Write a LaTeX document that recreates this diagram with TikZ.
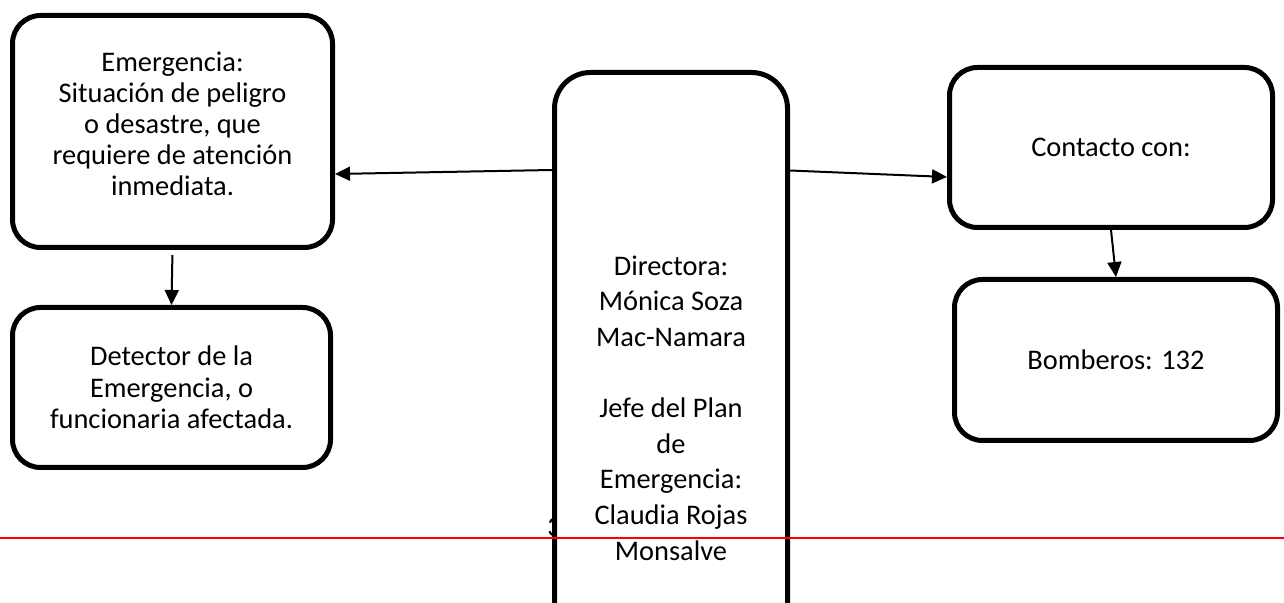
\documentclass[tikz,border=0pt]{standalone}
\usepackage{fontspec}
\setmainfont{Carlito}
\usetikzlibrary{arrows.meta}
\begin{document}
\begin{tikzpicture}[x=0.5pt,y=-0.5pt,line join=round,
	caja/.style={draw,line width=2.5pt,rounded corners=14pt,align=center,inner sep=0pt,font=\fontsize{14.2}{15.5}\selectfont},
	flecha/.style={-{Triangle[length=7.5pt,width=7pt]},line width=1pt}]
	\clip (0,0) rectangle (1284,603);
	\node[caja,minimum width=160pt,minimum height=116pt] (emerg) at (172.5,131.5) {Emergencia:\\Situación de peligro\\o desastre, que\\requiere de atención\\inmediata.\\[-8pt]\mbox{}};
	\node[caja,minimum width=159pt,minimum height=80pt,font=\fontsize{14.2}{15.8}\selectfont] (detector) at (171.5,387.5) {Detector de la\\Emergencia, o\\funcionaria afectada.};
	\node[anchor=base west,inner sep=0pt,font=\fontsize{14.2}{15.5}\selectfont] (pag) at (547,537) {3};
	\node[caja,fill=white,rounded corners=18pt,minimum width=116.5pt,minimum height=335.5pt,font=\fontsize{14.2}{17.8}\selectfont] (direc) at (671,408) {Directora:\\Mónica Soza\\Mac-Namara\\\mbox{}\\Jefe del Plan\\de\\Emergencia:\\Claudia Rojas\\Monsalve};
	\node[caja,minimum width=161.5pt,minimum height=80pt] (contacto) at (1111,147.5) {Contacto con:};
	\node[caja,minimum width=161.5pt,minimum height=80.5pt] (bomb) at (1116,360) {Bomberos: 132};
	\draw[red,line width=1pt] (0,538)--(1284,538);
	\draw[flecha] ([yshift=-50pt]direc.north west)--([yshift=-21.25pt]emerg.east);
	\draw[flecha] ([yshift=-50.25pt]direc.north east)--([yshift=-14.75pt]contacto.west);
	\draw[flecha,shorten <=2.5pt] (emerg.south)--(detector.north);
	\draw[flecha] (contacto.south)--(bomb.north);
\end{tikzpicture}
\end{document}
